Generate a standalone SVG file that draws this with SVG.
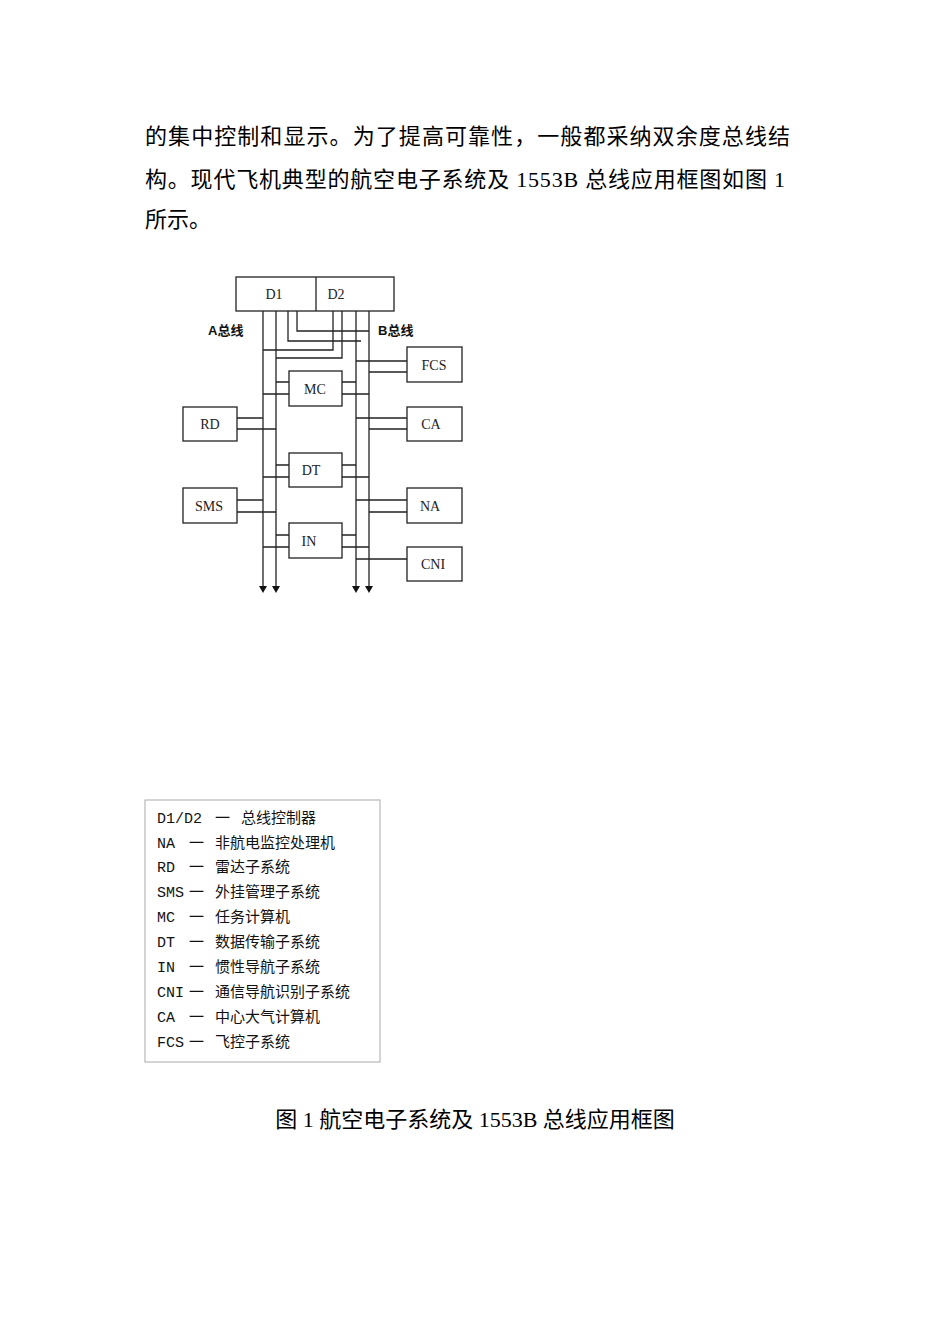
<svg xmlns="http://www.w3.org/2000/svg" width="950" height="1344" viewBox="0 0 950 1344">
<style>
.p{font-family:"Liberation Serif","Noto Sans CJK SC",serif;font-size:22px;fill:#000}
.b{fill:#fff;stroke:#222;stroke-width:1.3}
.l{stroke:#222;stroke-width:1.3;fill:none}
.t{font-family:"Liberation Serif",serif;font-size:14px;fill:#222;text-anchor:middle}
.g{font-family:"Liberation Mono","Noto Sans CJK SC",monospace;font-size:15px;fill:#111}
.h{font-family:"Liberation Sans","Noto Sans CJK SC",sans-serif;font-size:13px;font-weight:bold;fill:#111}
</style>
<defs><marker id="a" markerWidth="8" markerHeight="8" refX="4" refY="1" orient="0" markerUnits="userSpaceOnUse"><path d="M0,0 L8,0 L4,7 z" fill="#111"/></marker></defs>
<rect width="950" height="1344" fill="#fff"/>
<text class="p" x="145" y="144" textLength="645">的集中控制和显示。为了提高可靠性，一般都采纳双余度总线结</text>
<text class="p" x="145" y="187" textLength="640">构。现代飞机典型的航空电子系统及 1553B 总线应用框图如图 1</text>
<text class="p" x="145" y="227">所示。</text>
<g id="connectors">
<line class="l" x1="263" y1="311" x2="263" y2="587" marker-end="url(#a)"/>
<line class="l" x1="276" y1="311" x2="276" y2="587" marker-end="url(#a)"/>
<line class="l" x1="356" y1="311" x2="356" y2="587" marker-end="url(#a)"/>
<line class="l" x1="369" y1="311" x2="369" y2="587" marker-end="url(#a)"/>
<path class="l" d="M288,311V341H361M297,311V331H369M333,311V350H263M342,311V358H276"/>
<path class="l" d="M356,361H407M369,372H407M276,382H289M263,394H289M342,382H356M342,394H369"/>
<path class="l" d="M237,418H263M237,429H276M356,418H407M369,429H407"/>
<path class="l" d="M276,465H289M263,477H289M342,465H356M342,477H369"/>
<path class="l" d="M237,500H263M237,512H276M356,500H407M369,512H407"/>
<path class="l" d="M276,535H289M263,547H289M342,535H356M342,547H369M356,559H407"/>
</g>
<g id="D"><rect class="b" x="236" y="277" width="158" height="34"/><line class="l" x1="316" y1="277" x2="316" y2="311"/><text class="t" x="274" y="299">D1</text><text class="t" x="336" y="299">D2</text></g>
<text class="h" x="208" y="335">A总线</text>
<text class="h" x="378" y="335">B总线</text>
<g id="FCS"><rect class="b" x="407" y="347" width="55" height="35"/><text class="t" x="434" y="370">FCS</text></g>
<g id="MC"><rect class="b" x="289" y="371" width="53" height="35"/><text class="t" x="315" y="394">MC</text></g>
<g id="RD"><rect class="b" x="183" y="407" width="54" height="34"/><text class="t" x="210" y="429">RD</text></g>
<g id="CA"><rect class="b" x="407" y="407" width="55" height="34"/><text class="t" x="431" y="429">CA</text></g>
<g id="DT"><rect class="b" x="289" y="453" width="53" height="34"/><text class="t" x="311" y="475">DT</text></g>
<g id="SMS"><rect class="b" x="183" y="488" width="54" height="35"/><text class="t" x="209" y="511">SMS</text></g>
<g id="NA"><rect class="b" x="407" y="488" width="55" height="35"/><text class="t" x="430" y="511">NA</text></g>
<g id="IN"><rect class="b" x="289" y="523" width="53" height="35"/><text class="t" x="309" y="546">IN</text></g>
<g id="CNI"><rect class="b" x="407" y="547" width="55" height="34"/><text class="t" x="433" y="569">CNI</text></g>
<g id="legend">
<rect x="145" y="800" width="235" height="262" fill="#fff" stroke="#aaa" stroke-width="1"/>
<text class="g" x="157" y="823">D1/D2<tspan x="215">一</tspan><tspan x="241">总线控制器</tspan></text>
<text class="g" x="157" y="848">NA<tspan x="189">一</tspan><tspan x="215">非航电监控处理机</tspan></text>
<text class="g" x="157" y="872">RD<tspan x="189">一</tspan><tspan x="215">雷达子系统</tspan></text>
<text class="g" x="157" y="897">SMS<tspan x="189">一</tspan><tspan x="215">外挂管理子系统</tspan></text>
<text class="g" x="157" y="922">MC<tspan x="189">一</tspan><tspan x="215">任务计算机</tspan></text>
<text class="g" x="157" y="947">DT<tspan x="189">一</tspan><tspan x="215">数据传输子系统</tspan></text>
<text class="g" x="157" y="972">IN<tspan x="189">一</tspan><tspan x="215">惯性导航子系统</tspan></text>
<text class="g" x="157" y="997">CNI<tspan x="189">一</tspan><tspan x="215">通信导航识别子系统</tspan></text>
<text class="g" x="157" y="1022">CA<tspan x="189">一</tspan><tspan x="215">中心大气计算机</tspan></text>
<text class="g" x="157" y="1047">FCS<tspan x="189">一</tspan><tspan x="215">飞控子系统</tspan></text>
</g>
<text class="p" x="475" y="1127" text-anchor="middle" font-size="21">图 1 航空电子系统及 1553B 总线应用框图</text>
</svg>
